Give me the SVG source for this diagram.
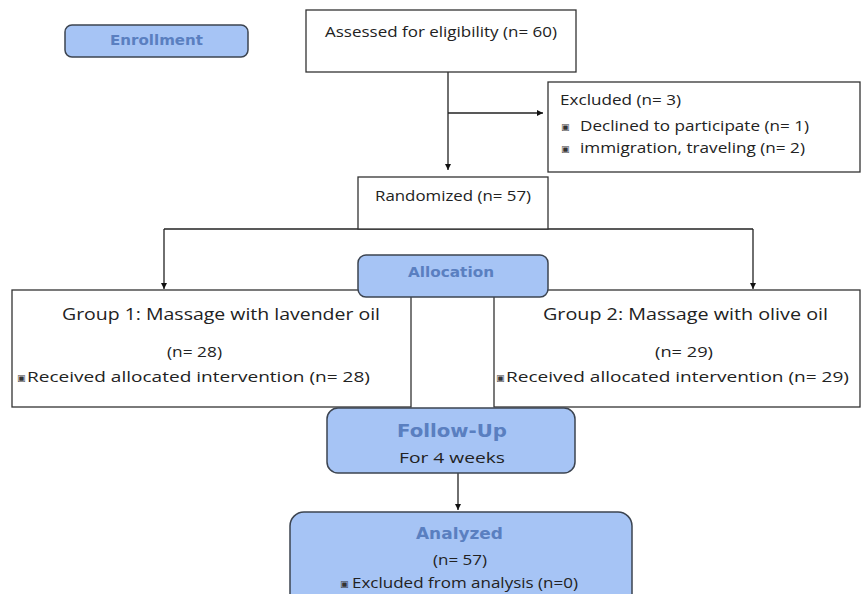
<svg xmlns="http://www.w3.org/2000/svg" width="862" height="594" viewBox="0 0 862 594">
<defs>
<marker id="ah" viewBox="0 0 10 10" refX="10" refY="5" markerWidth="6" markerHeight="6" orient="auto" markerUnits="userSpaceOnUse">
<path d="M0,0 L10,5 L0,10 z" fill="#111"/>
</marker>
<style>
.box{fill:#fff;stroke:#333;stroke-width:1.3}
.blue{fill:#a6c4f5;stroke:#3c4450;stroke-width:1.5}
.t{font-family:"Open Sans","Liberation Sans",sans-serif;font-size:15px;fill:#222}
.g{font-family:"Open Sans","Liberation Sans",sans-serif;font-size:17px;fill:#222}
.h{font-family:"DejaVu Sans",Verdana,sans-serif;font-weight:bold;fill:#5a7fc0}
.b{font-family:"DejaVu Sans",sans-serif;font-size:9px;fill:#333}
.c{stroke:#222;stroke-width:1.3;fill:none}
</style>
</defs>
<rect width="862" height="594" fill="#fff"/>
<g id="connectors">
<path class="c" d="M448,72 V170" marker-end="url(#ah)"/>
<path class="c" d="M448,113 H543" marker-end="url(#ah)"/>
<path class="c" d="M164,229 H753"/>
<path class="c" d="M164,229 V289" marker-end="url(#ah)"/>
<path class="c" d="M753,229 V289" marker-end="url(#ah)"/>
<path class="c" d="M458,473 V510" marker-end="url(#ah)"/>
</g>
<g id="enrollment">
<rect class="blue" x="65" y="25" width="183" height="32" rx="7"/>
<text class="h" x="110" y="45" font-size="14" textLength="93" lengthAdjust="spacingAndGlyphs">Enrollment</text>
</g>
<g id="assessed">
<rect class="box" x="306" y="10" width="270" height="62"/>
<text class="t" x="325" y="37" textLength="232" lengthAdjust="spacingAndGlyphs">Assessed for eligibility (n= 60)</text>
</g>
<g id="excluded">
<rect class="box" x="548" y="82" width="312" height="90"/>
<text class="t" x="560" y="105" textLength="121" lengthAdjust="spacingAndGlyphs">Excluded (n= 3)</text>
<text class="b" x="561" y="130">▣</text>
<text class="t" x="580" y="131" textLength="229" lengthAdjust="spacingAndGlyphs">Declined to participate (n= 1)</text>
<text class="b" x="561" y="152">▣</text>
<text class="t" x="580" y="153" textLength="225" lengthAdjust="spacingAndGlyphs">immigration, traveling (n= 2)</text>
</g>
<g id="randomized">
<rect class="box" x="358" y="177" width="190" height="52"/>
<text class="t" x="375" y="201" textLength="156" lengthAdjust="spacingAndGlyphs">Randomized (n= 57)</text>
</g>
<g id="group1">
<rect class="box" x="12" y="290" width="399" height="117"/>
<text class="g" x="62" y="320" textLength="318" lengthAdjust="spacingAndGlyphs">Group 1: Massage with lavender oil</text>
<text class="t" x="167" y="357" textLength="55" lengthAdjust="spacingAndGlyphs">(n= 28)</text>
<text class="b" x="17" y="381">▣</text>
<text class="t" x="27" y="382" textLength="343" lengthAdjust="spacingAndGlyphs">Received allocated  intervention (n= 28)</text>
</g>
<g id="group2">
<rect class="box" x="494" y="290" width="366" height="117"/>
<text class="g" x="543" y="320" textLength="285" lengthAdjust="spacingAndGlyphs">Group 2: Massage with olive oil</text>
<text class="t" x="655" y="357" textLength="58" lengthAdjust="spacingAndGlyphs">(n= 29)</text>
<text class="b" x="496" y="381">▣</text>
<text class="t" x="506" y="382" textLength="343" lengthAdjust="spacingAndGlyphs">Received allocated  intervention (n= 29)</text>
</g>
<g id="allocation">
<rect class="blue" x="358" y="255" width="190" height="42" rx="8"/>
<text class="h" x="408" y="277" font-size="14" textLength="86" lengthAdjust="spacingAndGlyphs">Allocation</text>
</g>
<g id="followup">
<rect class="blue" x="327" y="408" width="248" height="65" rx="11"/>
<text class="h" x="397" y="437" font-size="17" textLength="110" lengthAdjust="spacingAndGlyphs">Follow-Up</text>
<text class="t" x="399" y="463" font-size="16" textLength="106" lengthAdjust="spacingAndGlyphs">For 4 weeks</text>
</g>
<g id="analyzed">
<rect class="blue" x="290" y="512" width="342" height="100" rx="14"/>
<text class="h" x="416" y="539" font-size="16" textLength="87" lengthAdjust="spacingAndGlyphs">Analyzed</text>
<text class="t" x="433" y="565" textLength="54" lengthAdjust="spacingAndGlyphs">(n= 57)</text>
<text class="b" x="340" y="587">▣</text>
<text class="t" x="352" y="588" textLength="226" lengthAdjust="spacingAndGlyphs">Excluded from analysis (n=0)</text>
</g>
</svg>
